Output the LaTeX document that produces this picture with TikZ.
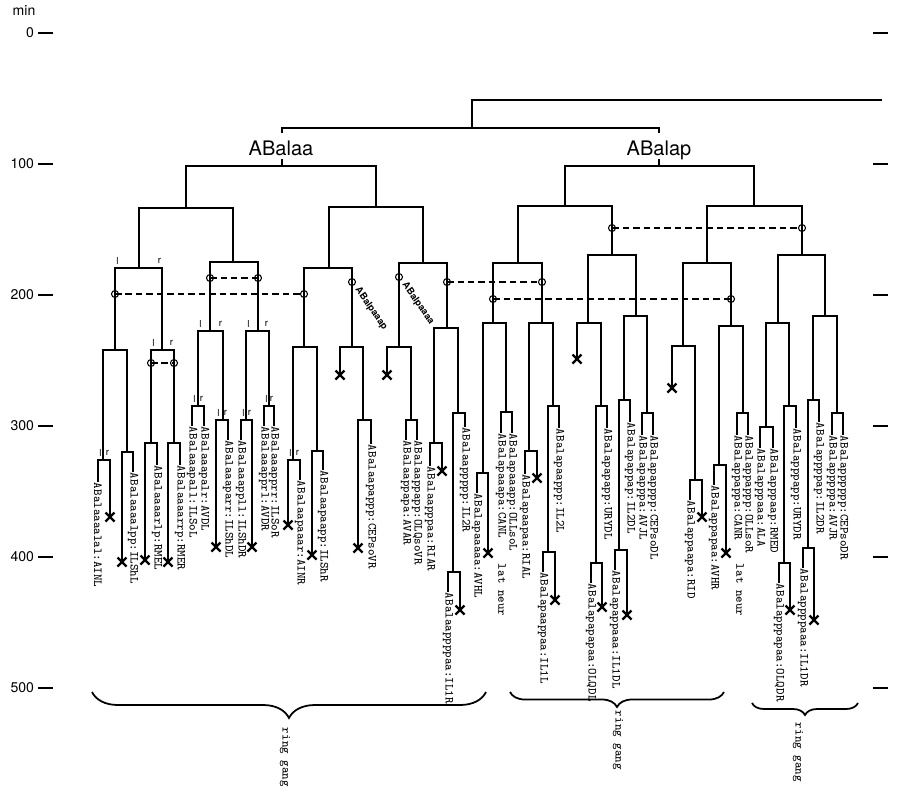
\documentclass[tikz,border=0pt]{standalone}
\usepackage{fontspec}
\setsansfont{TeX Gyre Heros}
\usetikzlibrary{decorations.pathreplacing}

% one division: left child x, right child x, time of division, ends of both children
\newcommand{\cdiv}[5]{\draw (#1,#4) |- (#2,#3) -- (#2,#5);}
\newcommand{\death}[2]{\draw[dead] (#1-4.5,#2-4.5) -- (#1+4.5,#2+4.5) (#1-4.5,#2+4.5) -- (#1+4.5,#2-4.5);}
\newcommand{\leaf}[3]{\node[leaflbl] at (#1,#2) {#3};}
\newcommand{\lr}[3]{\node[sidelbl] at (#1+2.5,#3-7) {l}; \node[sidelbl] at (#2-2.5,#3-7) {r};}
\newcommand{\eqv}[3]{\draw[eqline] (#1,#3) -- (#2,#3); \node[eqc] at (#1,#3) {}; \node[eqc] at (#2,#3) {};}

\tikzset{
  leaflbl/.style = {rotate=-90, anchor=west, inner sep=0pt, font=\fontsize{7}{7}\selectfont\ttfamily},
  sidelbl/.style = {inner sep=0pt, font=\fontsize{5.5}{5.5}\selectfont\sffamily},
  eqc/.style = {circle, draw, line width=0.6pt, inner sep=0pt, minimum size=0.14cm},
  eqline/.style = {dashed, line width=0.7pt, dash pattern=on 1.3mm off 0.8mm},
  eqlbl/.style = {rotate=-55, anchor=west, inner sep=0.5pt, font=\fontsize{5.4}{5.4}\selectfont\sffamily\bfseries},
  dead/.style = {line width=1.3pt},
  axlbl/.style = {anchor=east, inner sep=0pt, font=\fontsize{8}{8}\selectfont\sffamily},
  gang/.style = {decorate, line width=1pt},
  ganglbl/.style = {rotate=-90, anchor=west, inner sep=0pt, font=\fontsize{7}{7}\selectfont\ttfamily},
}

\begin{document}
\begin{tikzpicture}[x=0.02cm, y=-0.02cm, line width=1.1pt]
	\useasboundingbox (0,0) rectangle (913,796);

	% time axis
	\node[axlbl, anchor=center] at (24,11) {min};
	\foreach \t in {0,100,...,500} {
		\node[axlbl] at (35,{33+1.31*\t}) {\t};
		\draw (38,{33+1.31*\t}) -- (53,{33+1.31*\t});
		\draw (873,{33+1.31*\t}) -- (888,{33+1.31*\t});
	}

	% ABal
	\draw (882,100) -| (472,128);
	\draw (282,133) |- (659,128) -- (659,133);
	\node[anchor=base, inner sep=0pt, font=\fontsize{11.4}{12}\selectfont\sffamily] (ABalaa) at (281,155) {ABalaa};
	\node[anchor=base, inner sep=0pt, font=\fontsize{11.4}{12}\selectfont\sffamily] (ABalap) at (659,155) {ABalap};
	\draw (282,159) -- (282,166);
	\draw (659,159) -- (659,166);

	% ABalaa
	\cdiv{186}{376}{166}{208}{207}
	\cdiv{139}{233}{208}{268}{262}
	\cdiv{115}{162}{268}{350}{350} \lr{115}{162}{268}
	\cdiv{103}{127}{350}{460}{452}
	\cdiv{98}{110}{460}{482}{517} \lr{98}{110}{460}
	\cdiv{122}{133}{452}{562}{472}
	\cdiv{151}{174}{350}{443}{443} \lr{151}{174}{350}
	\cdiv{145}{157}{443}{560}{465}
	\cdiv{168}{180}{443}{562}{465}
	\cdiv{210}{258}{262}{331}{331}
	\cdiv{198}{223}{331}{406}{420} \lr{198}{223}{331}
	\cdiv{192}{204}{406}{426}{426} \lr{192}{204}{406}
	\cdiv{216}{228}{420}{547}{440} \lr{216}{228}{420}
	\cdiv{246}{269}{331}{420}{406} \lr{246}{269}{331}
	\cdiv{241}{252}{420}{440}{547} \lr{241}{252}{420}
	\cdiv{264}{274}{406}{426}{426} \lr{264}{274}{406}
	\cdiv{329}{423}{207}{268}{263}
	\cdiv{304}{352}{268}{347}{347}
	\cdiv{293}{317}{347}{460}{451}
	\cdiv{288}{300}{460}{525}{480} \lr{288}{300}{460}
	\cdiv{312}{323}{451}{555}{470}
	\cdiv{340}{363}{347}{375}{420}
	\cdiv{358}{371}{420}{548}{444}
	\cdiv{399}{447}{263}{347}{328}
	\cdiv{387}{411}{347}{375}{420}
	\cdiv{406}{417}{420}{440}{440}
	\cdiv{434}{458}{328}{443}{413}
	\cdiv{430}{442}{443}{466}{471}
	\cdiv{453}{465}{413}{572}{427}
	\cdiv{448}{460}{572}{592}{610}

	% ABalap
	\cdiv{565}{754}{166}{206}{206}
	\cdiv{518}{612}{206}{263}{255}
	\cdiv{493}{542}{263}{323}{323}
	\cdiv{483}{506}{323}{473}{412}
	\cdiv{477}{488}{473}{493}{553}
	\cdiv{501}{512}{412}{433}{433}
	\cdiv{529}{553}{323}{451}{406}
	\cdiv{525}{537}{451}{474}{478}
	\cdiv{548}{559}{406}{552}{428}
	\cdiv{543}{555}{552}{572}{600}
	\cdiv{588}{636}{255}{323}{316}
	\cdiv{577}{601}{323}{359}{406}
	\cdiv{596}{607}{406}{563}{428}
	\cdiv{591}{602}{563}{583}{607}
	\cdiv{624}{647}{316}{400}{413}
	\cdiv{619}{630}{400}{550}{422}
	\cdiv{615}{627}{550}{570}{615}
	\cdiv{642}{653}{413}{435}{435}
	\cdiv{707}{802}{206}{263}{255}
	\cdiv{683}{731}{263}{346}{326}
	\cdiv{672}{695}{346}{388}{480}
	\cdiv{690}{702}{480}{500}{517}
	\cdiv{719}{743}{326}{465}{413}
	\cdiv{714}{726}{465}{485}{553}
	\cdiv{737}{748}{413}{435}{435}
	\cdiv{778}{825}{255}{323}{316}
	\cdiv{766}{789}{323}{427}{406}
	\cdiv{760}{773}{427}{448}{448}
	\cdiv{784}{796}{406}{563}{428}
	\cdiv{779}{790}{563}{583}{610}
	\cdiv{813}{837}{316}{400}{413}
	\cdiv{808}{819}{400}{548}{422}
	\cdiv{803}{814}{548}{568}{620}
	\cdiv{832}{843}{413}{435}{435}

	% equivalences
	\eqv{115}{304}{294}
	\eqv{210}{258}{278}
	\eqv{151}{174}{363}
	\eqv{447}{542}{282}
	\eqv{493}{731}{299}
	\eqv{612}{802}{228}
	\node[eqc] at (352,282) {};
	\node[eqc] at (399,277) {};
	\node[eqlbl] at (356,287) {ABalpaaap};
	\node[eqlbl] at (403,282) {ABalpaaaa};

	% cell deaths
	\foreach \x/\y in {110/517,122/562,145/560,168/562,216/547,252/547,288/525,312/555,
		340/375,358/548,387/375,442/471,460/610,488/553,537/478,555/600,577/359,602/607,
		627/615,672/388,702/517,726/553,790/610,814/620} {
		\death{\x}{\y}
	}

	% terminal cells
	\leaf{98}{482}{ABalaaaalal:AINL}
	\leaf{133}{472}{ABalaaaalpp:ILShL}
	\leaf{157}{465}{ABalaaaarlp:RMEL}
	\leaf{180}{465}{ABalaaaarrp:RMER}
	\leaf{192}{426}{ABalaaapall:ILSoL}
	\leaf{204}{426}{ABalaaapalr:AVDL}
	\leaf{228}{440}{ABalaaaparr:ILShDL}
	\leaf{241}{440}{ABalaaappll:ILShDR}
	\leaf{264}{426}{ABalaaapprl:AVDR}
	\leaf{274}{426}{ABalaaapprr:ILSoR}
	\leaf{300}{480}{ABalaapaaar:AINR}
	\leaf{323}{470}{ABalaapaapp:ILShR}
	\leaf{371}{444}{ABalaapappp:CEPsoVR}
	\leaf{406}{440}{ABalaappapa:AVAR}
	\leaf{417}{440}{ABalaappapp:OLQsoVR}
	\leaf{430}{466}{ABalaapppaa:RIAR}
	\leaf{465}{427}{ABalaappppp:IL2R}
	\leaf{448}{592}{ABalaappppaa:IL1R}
	\leaf{477}{493}{ABalapaaaaa:AVHL}
	\leaf{501}{433}{ABalapaaapa:CANL}
	\leaf{512}{433}{ABalapaaapp:OLLsoL}
	\leaf{525}{474}{ABalapaapaa:RIAL}
	\leaf{559}{428}{ABalapaappp:IL2L}
	\leaf{543}{572}{ABalapaappaa:IL1L}
	\leaf{607}{428}{ABalapapapp:URYDL}
	\leaf{591}{583}{ABalapapapaa:OLQDL}
	\leaf{630}{422}{ABalapappap:IL2DL}
	\leaf{615}{570}{ABalapappaaa:IL1DL}
	\leaf{642}{435}{ABalapapppa:AVJL}
	\leaf{653}{435}{ABalapapppp:CEPsoDL}
	\leaf{690}{500}{ABalappaapa:RID}
	\leaf{714}{485}{ABalappapaa:AVHR}
	\leaf{737}{435}{ABalappappa:CANR}
	\leaf{748}{435}{ABalappappp:OLLsoR}
	\leaf{760}{448}{ABalapppaaa:ALA}
	\leaf{773}{448}{ABalapppaap:RMED}
	\leaf{796}{428}{ABalapppapp:URYDR}
	\leaf{779}{583}{ABalapppapaa:OLQDR}
	\leaf{819}{422}{ABalappppap:IL2DR}
	\leaf{803}{568}{ABalappppaaa:IL1DR}
	\leaf{832}{435}{ABalapppppa:AVJR}
	\leaf{843}{435}{ABalapppppp:CEPsoDR}
	\leaf{502}{563}{lat neur}
	\leaf{740}{563}{lat neur}

	% ring gang
	\draw[gang, decoration={brace, mirror, amplitude=0.52cm}] (92,692) -- (486,692);
	\draw[gang, decoration={brace, mirror, amplitude=0.3cm}] (510,692) -- (724,692);
	\draw[gang, decoration={brace, mirror, amplitude=0.24cm}] (752,703) -- (858,703);
	\node[ganglbl] at (285,727) {ring gang};
	\node[ganglbl] at (618,710) {ring gang};
	\node[ganglbl] at (798,722) {ring gang};
\end{tikzpicture}
\end{document}
